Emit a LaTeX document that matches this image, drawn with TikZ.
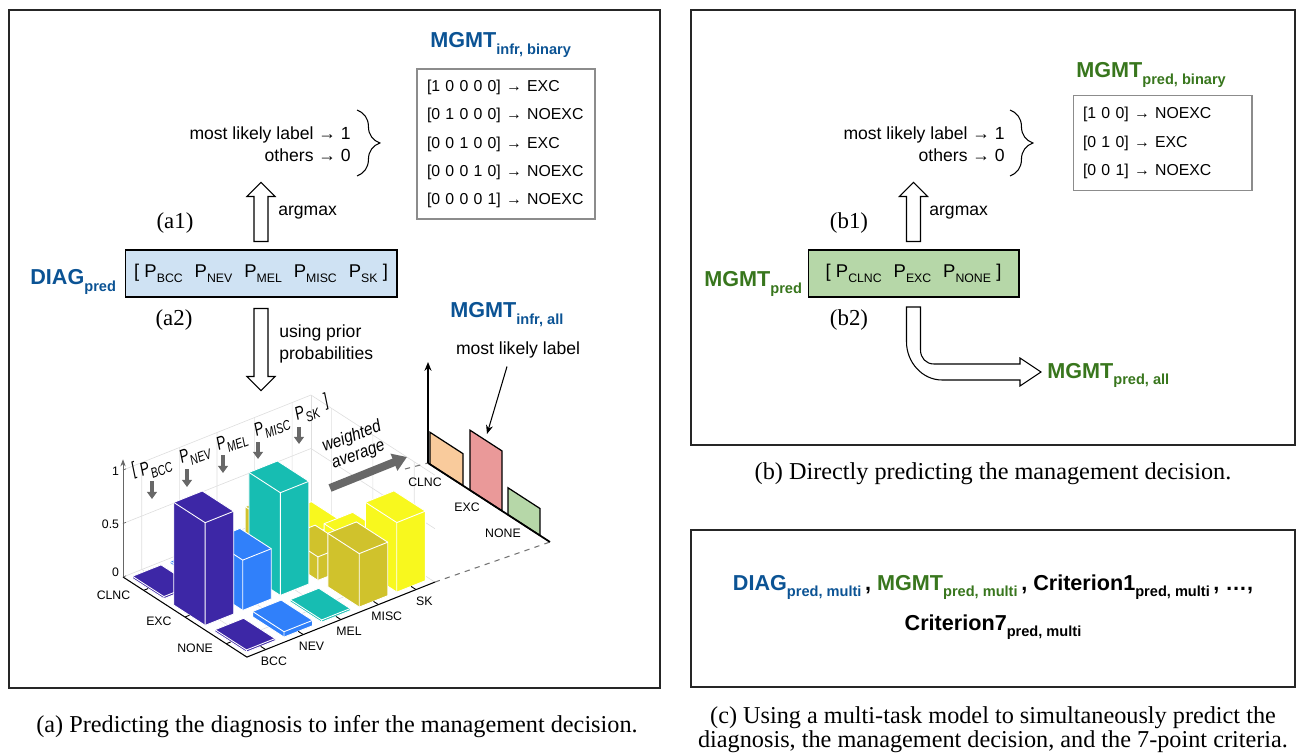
\documentclass[tikz,border=0pt]{standalone}
\usepackage{fontspec}
\setmainfont{Liberation Serif}
\setsansfont{Liberation Sans}
\newfontfamily\chartfont[FakeStretch=0.75]{Liberation Sans}
\newfontfamily\wavgfont[FakeStretch=0.87]{Liberation Sans}
\usetikzlibrary{arrows.meta, decorations.pathreplacing, calc}

\definecolor{diagblue}{HTML}{0B5394}
\definecolor{mgmtgreen}{HTML}{38761D}
\definecolor{boxblue}{HTML}{CFE2F3}
\definecolor{boxgreen}{HTML}{B6D7A8}
\definecolor{barclnc}{HTML}{F9CB9C}
\definecolor{barexc}{HTML}{EA9999}
\definecolor{barnone}{HTML}{B6D7A8}
\definecolor{cbcc}{HTML}{3D27A6}
\definecolor{cnev}{HTML}{3080FA}
\definecolor{cmel}{HTML}{17BDB2}
\definecolor{cmisc}{HTML}{D0C22C}
\definecolor{csk}{HTML}{F8F81E}
\definecolor{arrowgray}{HTML}{686868}

\newcommand{\bsub}[1]{\raisebox{-3.8pt}{\fontsize{8.3}{9}\selectfont\bfseries #1}}
\newcommand{\psub}[1]{\raisebox{-3pt}{\fontsize{7}{8}\selectfont #1}}
\newcommand{\isub}[1]{\raisebox{-3pt}{\fontsize{8}{9}\selectfont\itshape #1}}

% one bar of the 3D chart: column, row, height, colour
\newcommand{\chartbar}[4]{%
  \pgfmathsetmacro{\cua}{#1+0.12}\pgfmathsetmacro{\cub}{#1+0.88}%
  \pgfmathsetmacro{\cva}{#2+0.12}\pgfmathsetmacro{\cvb}{#2+0.88}%
  \filldraw[fill=#4, draw=white, line width=0.5pt]
    (\cua,\cvb,0) -- (\cub,\cvb,0) -- (\cub,\cvb,#3) -- (\cub,\cva,#3)
    -- (\cua,\cva,#3) -- (\cua,\cva,0) -- cycle;
  \draw[white, line width=0.5pt] (\cua,\cvb,0) -- (\cua,\cvb,#3) -- (\cub,\cvb,#3)
    (\cua,\cvb,#3) -- (\cua,\cva,#3);
}

\begin{document}
\begin{tikzpicture}[x=0.02cm, y=-0.02cm,
  frame/.style={draw=black!85, line width=1.1pt},
  bigtext/.style={font=\sffamily\bfseries\fontsize{12.3}{14}\selectfont, inner sep=0pt},
  plain/.style={font=\sffamily\fontsize{10}{12.5}\selectfont, inner sep=0pt},
  rowtext/.style={font=\sffamily\fontsize{9}{16.1}\selectfont},
  steplabel/.style={font=\fontsize{13}{15}\selectfont},
  captext/.style={font=\fontsize{13.8}{13.6}\selectfont},
  probbox/.style={draw=black, line width=0.6pt, minimum width=5.44cm, minimum height=0.94cm, inner sep=0pt, font=\sffamily\fontsize{10.5}{12}\selectfont},
  blockarrow/.style={draw=black, fill=white, line width=0.6pt},
  axislabel/.style={font=\sffamily\fontsize{7}{8}\selectfont, inner sep=1pt},
  plabel/.style={font=\chartfont\itshape\fontsize{10.5}{12}\selectfont, rotate=20, inner sep=0pt},
  pointer/.style={arrowgray, line width=2.3pt, -{Triangle[width=5.5pt,length=4pt]}},
  grid3d/.style={black!13, line width=0.35pt},
  thinarrow/.style={line width=0.6pt, -{Stealth[length=5pt,width=4pt]}}
]
\useasboundingbox (0,0) rectangle (1300,756);

% Frames
\draw[frame] (9,10) rectangle (660,688);
\draw[frame] (691,10) rectangle (1295,445);
\draw[frame] (691,530) rectangle (1295,687);

% ---------------- Panel (a) ----------------
\node[bigtext, text=diagblue, anchor=base west] (infrbin) at (430,48) {MGMT\bsub{infr, binary}};
\node[rowtext, draw=black!45, line width=0.6pt, minimum width=3.56cm, minimum height=3cm,
      text width=3.16cm, align=left] (infrbox) at (506,144)
  {{[}1 0 0 0 0] → EXC\\ {[}0 1 0 0 0] → NOEXC\\ {[}0 0 1 0 0] → EXC\\ {[}0 0 0 1 0] → NOEXC\\ {[}0 0 0 0 1] → NOEXC};

\node[plain, align=right, anchor=east] (rulea) at (351,144) {most likely label → 1\\ others → 0};
\draw[decorate, decoration={brace, amplitude=13pt}, line width=0.6pt] (357,110) -- (357,176);

\node[probbox, fill=boxblue] (diagbox) at (261,273.5)
  {{[}\hspace{3pt}P\psub{BCC}\hspace{6.8pt}P\psub{NEV}\hspace{6.8pt}P\psub{MEL}\hspace{6.8pt}P\psub{MISC}\hspace{6.8pt}P\psub{SK}\hspace{3pt}]};
\node[bigtext, text=diagblue, anchor=base west] (diagpred) at (30,285) {DIAG\bsub{pred}};

\node[steplabel] (a1) at (175,223) {(a1)};
\node[steplabel] (a2) at (174,320) {(a2)};

% argmax arrow
\draw[blockarrow] ($(diagbox.north)+(-7,-8)$) -- ++(0,-45) -- ++(-7,0) -- ++(14,-14)
  -- ++(14,14) -- ++(-7,0) -- ++(0,45) -- cycle;
\node[plain, anchor=west] (argmaxa) at (278,213) {argmax};

% prior probability arrow
\draw[blockarrow] ($(diagbox.south)+(-7,11)$) -- ++(0,68) -- ++(-7,0) -- ++(14,14)
  -- ++(14,-14) -- ++(-7,0) -- ++(0,-68) -- cycle;
\node[plain, anchor=west, align=left] (priora) at (279,344) {using prior\\ probabilities};

\node[bigtext, text=diagblue, anchor=base west] (infrall) at (450,318) {MGMT\bsub{infr, all}};
\node[plain] (mlabel) at (518,350) {most likely label};

% 3D bar chart
\begin{scope}[shift={(123,577)}, x={(0.752cm,0.3cm)}, y={(0.826cm,-0.534cm)}, z={(0cm,2.14cm)}]
  % grid
  \foreach \zz in {0,0.5,1}
    \draw[grid3d] (0,0,\zz) -- (5,0,\zz) -- (5,3,\zz);
  \foreach \uu in {0.5,1.5,...,4.5}
    \draw[grid3d] (\uu,3,0) -- (\uu,0,0) -- (\uu,0,1);
  \foreach \vv in {0.5,1.5,2.5}
    \draw[grid3d] (0,\vv,0) -- (5,\vv,0) -- (5,\vv,1);
  \draw[grid3d] (5,0,0) -- (5,0,1);

  % bars, far to near
  \foreach \i/\j/\bh/\bcol in {4/0/0.05/csk, 3/0/0.25/cmisc, 4/1/0.2/csk, 2/0/0.02/cmel,
      3/1/0.22/cmisc, 1/0/0.02/cnev, 4/2/0.65/csk, 2/1/0.96/cmel, 0/0/0.02/cbcc,
      3/2/0.5/cmisc, 1/1/0.47/cnev, 2/2/0.02/cmel, 0/1/0.96/cbcc, 1/2/0.05/cnev, 0/2/0.02/cbcc}
    {\chartbar{\i}{\j}{\bh}{\bcol}}

  % Axes
  \draw[black!60, line width=0.5pt, -{Stealth[length=4pt,width=3pt]}] (0,0,0) -- (0,0,1.1);
  \draw[line width=0.6pt] (0,0,0) -- (0,3,0) -- (5,3,0);
  \foreach \zz in {0,0.5,1}
    \draw[black!60, line width=0.4pt] (0,0,\zz) -- (0.08,0,\zz);
  \foreach \vv in {0.5,1.5,2.5}
    \draw[line width=0.5pt] (0,\vv,0) -- (0.12,\vv,0);
  \foreach \uu in {0.5,1.5,...,4.5}
    \draw[line width=0.5pt] (\uu,3,0) -- (\uu,2.88,0);
  \coordinate (chartR) at (5,3,0);

  % Labels
  \node[axislabel, anchor=east] (ztop) at (-0.05,0,1) {1};
  \node[axislabel, anchor=east] (zmid) at (-0.05,0,0.5) {0.5};
  \node[axislabel, anchor=east] (zlow) at (-0.05,0,0.05) {0};
  \node[axislabel, anchor=east] (lclnc) at (-0.3,0.5,0) {CLNC};
  \node[axislabel, anchor=east] (lexc) at (-0.3,1.5,0) {EXC};
  \node[axislabel, anchor=east] (lnone) at (-0.3,2.5,0) {NONE};
  \node[axislabel, anchor=north] (lbcc) at (0.5,3.2,0) {BCC};
  \node[axislabel, anchor=north] (lnev) at (1.5,3.2,0) {NEV};
  \node[axislabel, anchor=north] (lmel) at (2.5,3.2,0) {MEL};
  \node[axislabel, anchor=north] (lmisc) at (3.5,3.2,0) {MISC};
  \node[axislabel, anchor=north] (lsk) at (4.5,3.2,0) {SK};
\end{scope}

% probabilities over the chart
\node[plabel] (lbrack) at (134,470) {[};
\node[plabel] (pbcc) at (156,468) {P\isub{BCC}};
\node[plabel] (pnev) at (195,455) {P\isub{NEV}};
\node[plabel] (pmel) at (232,442) {P\isub{MEL}};
\node[plabel] (pmisc) at (272,427) {P\isub{MISC}};
\node[plabel] (psk) at (307,413) {P\isub{SK}};
\node[plabel] (rbrack) at (326,401) {]};
\draw[pointer] (152,481) -- (152,499);
\draw[pointer] (187,469) -- (187,487);
\draw[pointer] (223,455) -- (223,473);
\draw[pointer] (258,442) -- (258,459);
\draw[pointer] (299,427) -- (299,444);

\node[font=\wavgfont\itshape\fontsize{10}{10.8}\selectfont, rotate=20, align=center, inner sep=0pt] (wavg) at (355,446) {weighted\\ average};
\draw[arrowgray, line width=4.5pt, -{Triangle[width=10pt,length=8pt]}] (330,488) -- (407,457);

% management chart
\coordinate (mo) at (428,463);
\coordinate (mtop) at (428,362);
\coordinate (mend) at (550,542);
\coordinate (redtop) at (487,434);
\draw[dashed, black!55, line width=0.6pt] (405,469) -- (mo);
\draw[dashed, black!55, line width=0.6pt] (chartR) -- (mend);
\begin{scope}[shift={(428,463)}, x={(2.44cm,-1.58cm)}, y={(0cm,0.02cm)}]
  \draw[fill=barclnc, line width=0.7pt] (0.016,0) -- (0.287,0) -- (0.287,32) -- (0.016,32) -- cycle;
  \draw[fill=barexc, line width=0.7pt] (0.344,0) -- (0.607,0) -- (0.607,60) -- (0.344,60) -- cycle;
  \draw[fill=barnone, line width=0.7pt] (0.656,0) -- (0.918,0) -- (0.918,27) -- (0.656,27) -- cycle;
\end{scope}
\draw[line width=1pt, -{Stealth[length=5pt,width=4pt]}] (mo) -- (mtop);
\draw[line width=1pt] (mo) -- (mend);
\node[axislabel] (mclnc) at (425,482) {CLNC};
\node[axislabel] (mexc) at (467,507) {EXC};
\node[axislabel] (mnone) at (503,533) {NONE};
\draw[thinarrow] ($(mlabel.south)+(-11,8)$) -- (redtop);

% ---------------- Panel (b) ----------------
\node[bigtext, text=mgmtgreen, anchor=base west] (predbin) at (1076,78) {MGMT\bsub{pred, binary}};
\node[rowtext, draw=black!45, line width=0.6pt, minimum width=3.58cm, minimum height=1.9cm,
      text width=3.18cm, align=left] (predbox) at (1162.5,143)
  {{[}1 0 0] → NOEXC\\ {[}0 1 0] → EXC\\ {[}0 0 1] → NOEXC};

\node[plain, align=right, anchor=east] (ruleb) at (1005,144) {most likely label → 1\\ others → 0};
\draw[decorate, decoration={brace, amplitude=13pt}, line width=0.6pt] (1010,110) -- (1010,176);

\node[probbox, fill=boxgreen, minimum width=4.22cm] (mgmtbox) at (913.5,273.5)
  {{[}\hspace{3pt}P\psub{CLNC}\hspace{6.8pt}P\psub{EXC}\hspace{6.8pt}P\psub{NONE}\hspace{3pt}]};
\node[bigtext, text=mgmtgreen, anchor=base west] (mgmtpred) at (704,287) {MGMT\bsub{pred}};

\node[steplabel] (b1) at (849,223) {(b1)};
\node[steplabel] (b2) at (849,320) {(b2)};

% argmax arrow
\draw[blockarrow] ($(mgmtbox.north)+(-7,-8)$) -- ++(0,-45) -- ++(-7,0) -- ++(14,-14)
  -- ++(14,14) -- ++(-7,0) -- ++(0,45) -- cycle;
\node[plain, anchor=west] (argmaxb) at (929,213) {argmax};

% bent arrow
\draw[blockarrow] (906.5,307) -- (906.5,342) .. controls (906.5,362) and (922,380) .. (942,380)
  -- (1020,380) -- (1020,386) -- (1041,372) -- (1020,358) -- (1020,364) -- (934,364)
  .. controls (926,364) and (920.5,358) .. (920.5,350) -- (920.5,307) -- cycle;
\node[bigtext, text=mgmtgreen, anchor=base west] (predall) at (1047,378) {MGMT\bsub{pred, all}};

% ---------------- Panel (c) ----------------
\node[bigtext, anchor=base] (multia) at (993,590)
  {\textcolor{diagblue}{DIAG\bsub{pred, multi}}\,, \textcolor{mgmtgreen}{MGMT\bsub{pred, multi}}\,, Criterion1\bsub{pred, multi}\,, …,};
\node[bigtext, anchor=base] (multib) at (993,630) {Criterion7\bsub{pred, multi}};

% Captions
\node[captext] (capa) at (337,727) {(a) Predicting the diagnosis to infer the management decision.};
\node[captext] (capb) at (993,474) {(b) Directly predicting the management decision.};
\node[captext, align=center] (capc) at (993,730) {(c) Using a multi-task model to simultaneously predict the\\ diagnosis, the management decision, and the 7-point criteria.};

\end{tikzpicture}
\end{document}
